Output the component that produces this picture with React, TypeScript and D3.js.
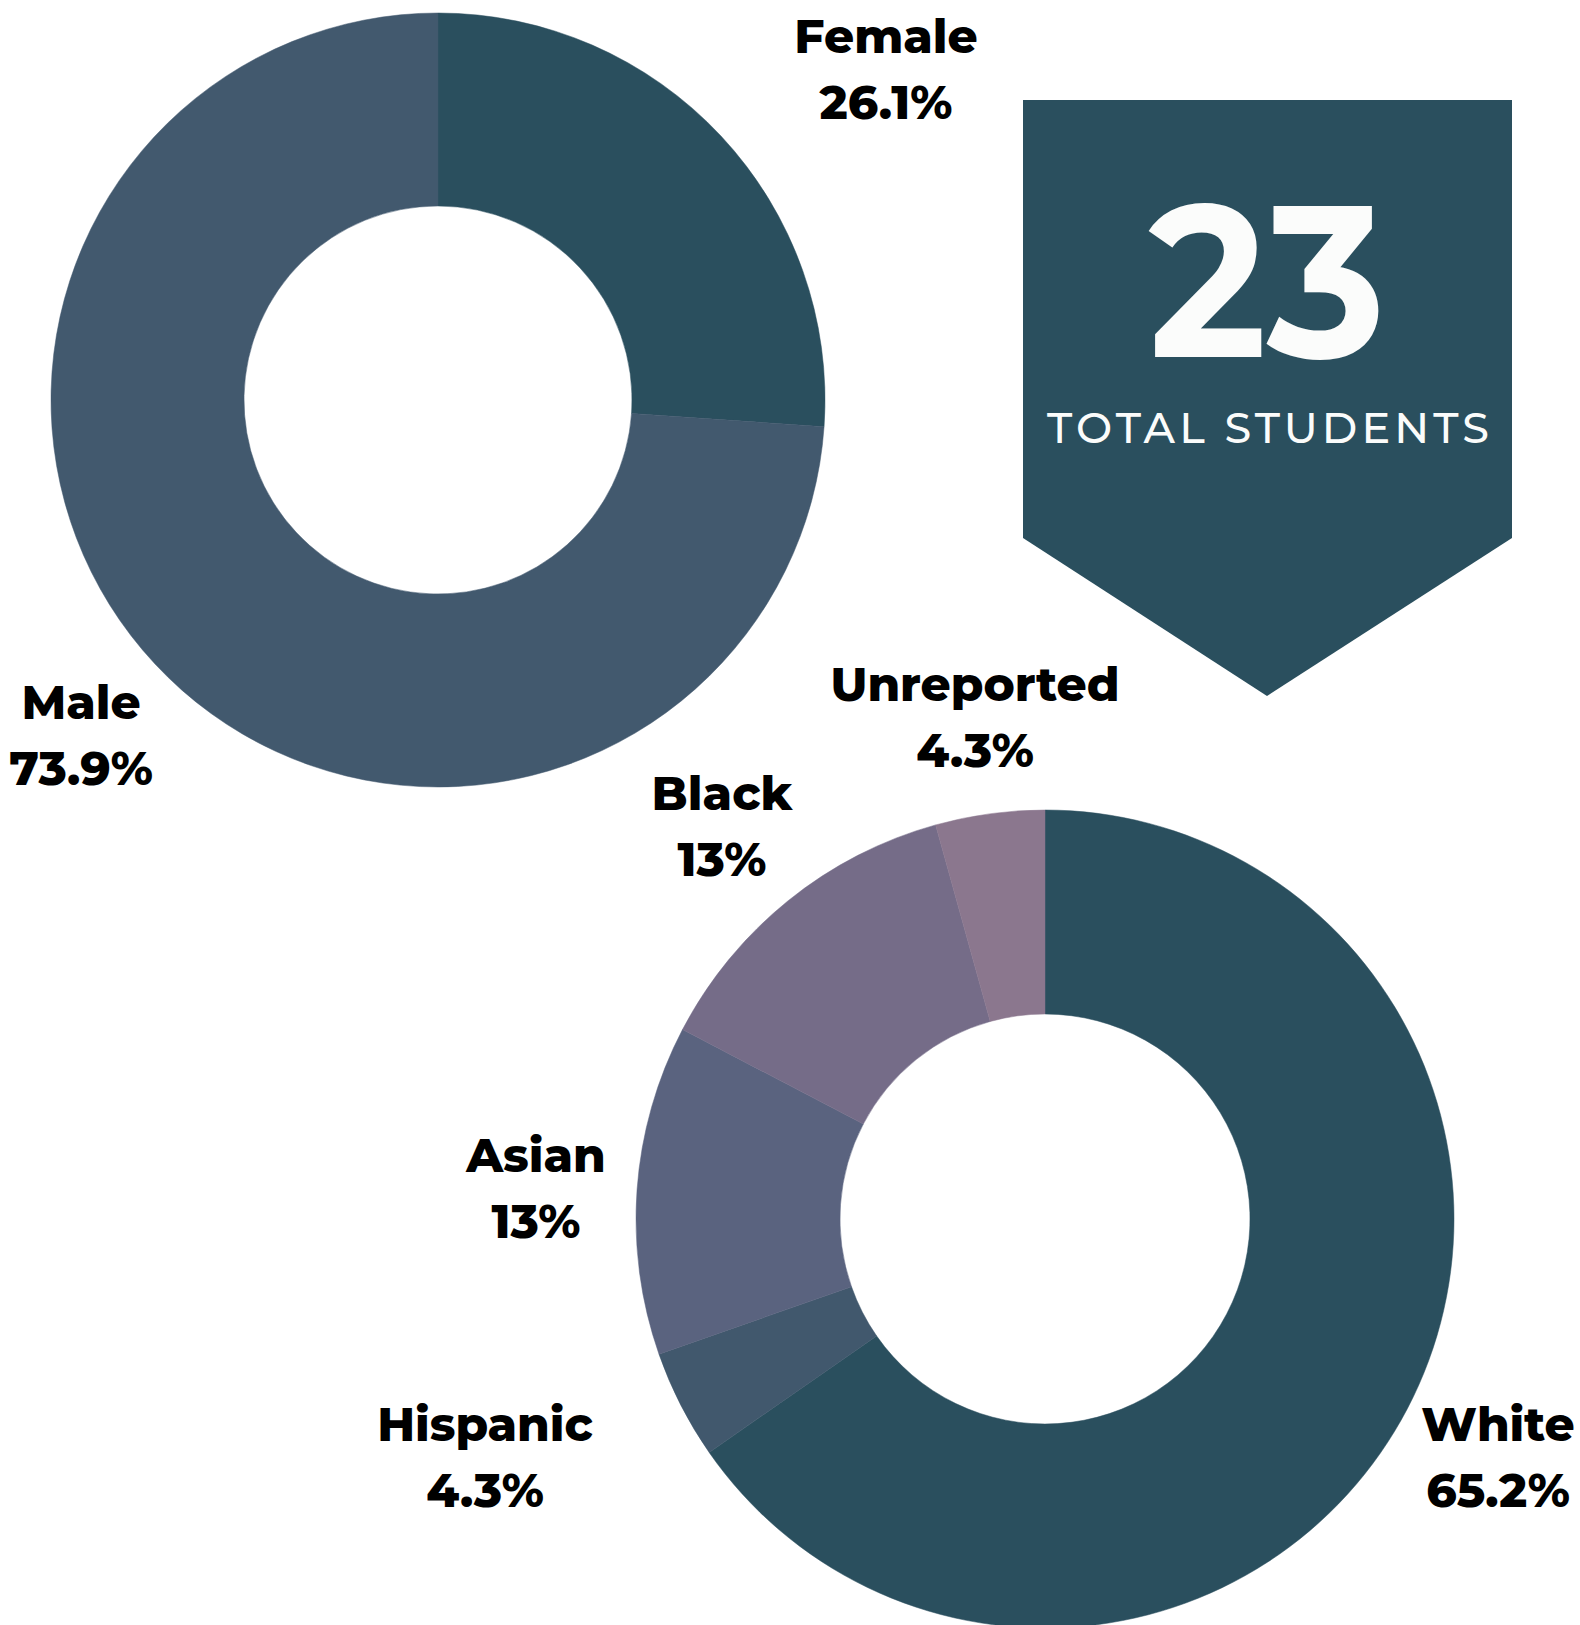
import React from "react";
import * as d3 from "d3";

const genderCategories = ["Female", "Male"];
const genderValues = [26.1, 73.9];
const genderColors = ["#2a4f5e", "#42596e"];

const raceCategories = ["White", "Hispanic", "Asian", "Black", "Unreported"];
const raceValues = [65.2, 4.3, 13, 13, 4.3];
const raceColors = ["#2a4f5e", "#41586d", "#5a637f", "#756c88", "#8b778e"];

const totalStudents = 23;
const totalLabel = "TOTAL STUDENTS";

// label anchor positions (layout), [x, y of first baseline]
const genderLabelPos: [number, number][] = [[886, 53], [81, 719]];
const raceLabelPos: [number, number][] = [[1498, 1441], [485, 1441], [536, 1172], [722, 810], [975, 701]];

const W = 1580;
const H = 1625;
const FONT = "Montserrat, Lato, 'Open Sans', sans-serif";

function fmt(v: number) {
  return `${v}%`;
}

function Donut({ cx, cy, r0, r1, values, colors }: { cx: number; cy: number; r0: number; r1: number; values: number[]; colors: string[] }) {
  const pie = d3.pie<number>().sort(null).value((d) => d);
  const arc = d3.arc<d3.PieArcDatum<number>>().innerRadius(r0).outerRadius(r1);
  const arcs = pie(values);
  return (
    <g transform={`translate(${cx},${cy})`}>
      {arcs.map((a, i) => (
        <path key={i} d={arc(a) || ""} fill={colors[i]} stroke={colors[i]} strokeWidth={0.5} />
      ))}
    </g>
  );
}

function Label({ x, y, name, value }: { x: number; y: number; name: string; value: number }) {
  return (
    <g fontFamily={FONT} fontWeight={800} fontSize={47} fill="#000" textAnchor="middle">
      <text x={x} y={y}>{name}</text>
      <text x={x} y={y + 66}>{fmt(value)}</text>
    </g>
  );
}

export default function App() {
  const badge = d3.path();
  badge.moveTo(1023, 100);
  badge.lineTo(1512, 100);
  badge.lineTo(1512, 538);
  badge.lineTo(1267, 696);
  badge.lineTo(1023, 538);
  badge.closePath();
  return (
    <svg width={W} height={H} style={{ display: "block", position: "absolute", left: 0, top: 0 }}>
      <rect width={W} height={H} fill="#fff" />
      <Donut cx={438} cy={400} r0={194} r1={387} values={genderValues} colors={genderColors} />
      <Donut cx={1045} cy={1219} r0={205} r1={409} values={raceValues} colors={raceColors} />
      <path d={badge.toString()} fill="#2a4f5e" />
      <text x={1267} y={357} textAnchor="middle" fontFamily={FONT} fontWeight={700} fontSize={216} fill="#fbfcfb" textLength={237} lengthAdjust="spacingAndGlyphs">{totalStudents}</text>
      <text x={1268} y={443} textAnchor="middle" fontFamily={FONT} fontWeight={500} fontSize={43} fill="#fbfcfb" textLength={442} lengthAdjust="spacing">{totalLabel}</text>
      {genderCategories.map((c, i) => (
        <Label key={c} x={genderLabelPos[i][0]} y={genderLabelPos[i][1]} name={c} value={genderValues[i]} />
      ))}
      {raceCategories.map((c, i) => (
        <Label key={c} x={raceLabelPos[i][0]} y={raceLabelPos[i][1]} name={c} value={raceValues[i]} />
      ))}
    </svg>
  );
}
